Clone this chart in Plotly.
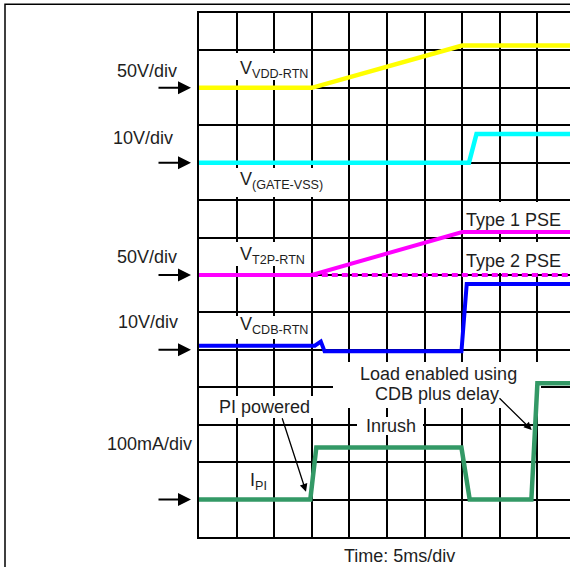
import plotly.graph_objects as go

# ---------------- data (time in ms, values in channel units) ----------------
t_vdd = [0, 15, 35, 50]
v_vdd = [0, 0, 56.5, 56.5]            # V, 50 V/div

t_gate = [0, 35.9, 36.9, 50]
v_gate = [0, 0, 7.7, 7.7]             # V, 10 V/div

t_t2p1 = [0, 15, 35, 50]
v_t2p1 = [0, 0, 57.5, 57.5]           # V, 50 V/div (Type 1 PSE)

t_t2p2 = [15, 50]
v_t2p2 = [0, 0]                       # V, 50 V/div (Type 2 PSE)

t_cdb = [0, 15.4, 16.2, 16.7, 34.9, 35.6, 50]
v_cdb = [1.1, 1.1, 2.2, -0.4, -0.4, 17.6, 17.6]   # V, 10 V/div

t_ipi = [0, 14.8, 15.6, 34.9, 36.0, 44.2, 45.0, 50]
i_ipi = [0, 0, 139, 139, 0, 0, 311, 311]          # mA, 100 mA/div

scale_labels = ["50V/div", "10V/div", "50V/div", "10V/div", "100mA/div"]
time_label = "Time: 5ms/div"

# ---------------- geometry / style ----------------
W, H = 570, 567
ML, MR, MT, MB = 199, 0, 13, 30
PW, PH = W - ML - MR, H - MT - MB
PX_PER_DIV_X = 37.6
XMAX = PW / PX_PER_DIV_X * 5.0
YMAX = 14

def xd(px):
    return (px - ML) / PX_PER_DIV_X * 5.0

def yd(py):
    return (MT + PH - py) / PH * YMAX

def xp(px):
    return (px - ML) / PW

def yp(py):
    return (MT + PH - py) / PH

FONT = "Liberation Sans, Arial, sans-serif"
TXT = "#1e1e1e"

def scaled(vals, scale, base):
    return [base + v / scale for v in vals]

fig = go.Figure()

traces = [
    (t_vdd, scaled(v_vdd, 50, 12), "#FFFF00", 4.5, "solid"),
    (t_gate, scaled(v_gate, 10, 10), "#00FFFF", 4.5, "solid"),
    (t_t2p2, scaled(v_t2p2, 50, 7), "#FF00FF", 4.0, "6px,4px"),
    (t_t2p1, scaled(v_t2p1, 50, 7), "#FF00FF", 4.0, "solid"),
    (t_cdb, scaled(v_cdb, 10, 5), "#0000FF", 4.0, "solid"),
    (t_ipi, scaled(i_ipi, 100, 1), "#339966", 4.5, "solid"),
]
for tx, ty, col, w, dash in traces:
    fig.add_trace(go.Scatter(x=tx, y=ty, mode="lines",
                             line=dict(color=col, width=w, dash=dash),
                             hoverinfo="skip", showlegend=False))

shapes = []
# white label backgrounds (between grid and traces)
boxes = [
    (232, 306, 53, 80), (232, 322, 168, 197), (232, 306, 242, 266),
    (232, 306, 316, 339), (242, 272, 468, 494), (214, 313, 396, 418),
    (357, 423, 417, 435), (333, 541, 362, 408), (463, 575, 202, 231),
    (463, 575, 242, 273),
]
for x0, x1, y0, y1 in boxes:
    shapes.append(dict(type="rect", xref="x", yref="y", layer="between",
                       x0=xd(x0), x1=xd(x1), y0=yd(y1), y1=yd(y0),
                       fillcolor="white", line=dict(width=0)))
# outer frame
shapes.append(dict(type="rect", xref="paper", yref="paper",
                   x0=xp(5), x1=xp(600), y0=yp(600), y1=yp(4.3),
                   fillcolor="rgba(0,0,0,0)", line=dict(color="black", width=1.5)))

ann = []
def label(text, x, y, xanchor="center", size=18):
    ann.append(dict(text=text, x=xd(x), y=yd(y), xref="x", yref="y",
                    xanchor=xanchor, yanchor="middle", showarrow=False,
                    font=dict(family=FONT, size=size, color=TXT)))

label("V<sub>VDD-RTN</sub>", 238, 69, "left")
label("V<sub>(GATE-VSS)</sub>", 238, 180, "left")
label("V<sub>T2P-RTN</sub>", 238, 255, "left")
label("V<sub>CDB-RTN</sub>", 238, 325, "left")
label("I<sub>PI</sub>", 248, 481, "left")
label("PI powered", 264, 407)
label("Inrush", 391, 426)
label("Load enabled using", 438, 374)
label("CDB plus delay", 437, 394)
label("Type 1 PSE", 513.5, 220)
label("Type 2 PSE", 513.5, 261)

# left scale labels (paper coords, outside plot)
for txt, cx, cy in zip(scale_labels, [147, 142.5, 147, 147.5, 149], [71, 138, 257, 322, 444]):
    ann.append(dict(text=txt, x=xp(cx), y=yp(cy), xref="paper", yref="paper",
                    xanchor="center", yanchor="middle", showarrow=False,
                    font=dict(family=FONT, size=18, color=TXT)))
ann.append(dict(text=time_label, x=xp(399), y=yp(556), xref="paper", yref="paper",
                xanchor="center", yanchor="middle", showarrow=False,
                font=dict(family=FONT, size=18, color=TXT)))

# baseline marker arrows
for base in [12, 10, 7, 5, 1]:
    ann.append(dict(text="", x=xp(191), y=base, xref="paper", yref="y",
                    ax=-34, ay=0, showarrow=True, arrowhead=2, arrowsize=1.3,
                    arrowwidth=2, arrowcolor="black"))

# callout arrows
ann.append(dict(text="", x=xd(306), y=yd(491.7), xref="x", yref="y",
                ax=-24.3, ay=-75, showarrow=True, arrowhead=2, arrowsize=1.2,
                arrowwidth=1.3, arrowcolor="black"))
ann.append(dict(text="", x=xd(531.7), y=yd(430), xref="x", yref="y",
                ax=-33.7, ay=-33.3, showarrow=True, arrowhead=2, arrowsize=1.2,
                arrowwidth=1.3, arrowcolor="black"))

fig.update_layout(
    width=W, height=H, margin=dict(l=ML, r=MR, t=MT, b=MB),
    paper_bgcolor="white", plot_bgcolor="white",
    shapes=shapes, annotations=ann, showlegend=False,
    xaxis=dict(range=[0, XMAX], dtick=5, tick0=0, showgrid=True,
               gridcolor="black", gridwidth=1.6, showticklabels=False,
               ticks="", zeroline=False, showline=True, linecolor="black",
               linewidth=1.6, mirror=True, fixedrange=True),
    yaxis=dict(range=[0, YMAX], dtick=1, tick0=0, showgrid=True,
               gridcolor="black", gridwidth=1.6, showticklabels=False,
               ticks="", zeroline=False, showline=True, linecolor="black",
               linewidth=1.6, mirror=False, fixedrange=True),
)

fig.write_html("out.html", config={"displayModeBar": False},
               post_script="document.body.style.margin='0';"
                           "document.body.style.overflow='hidden';")
